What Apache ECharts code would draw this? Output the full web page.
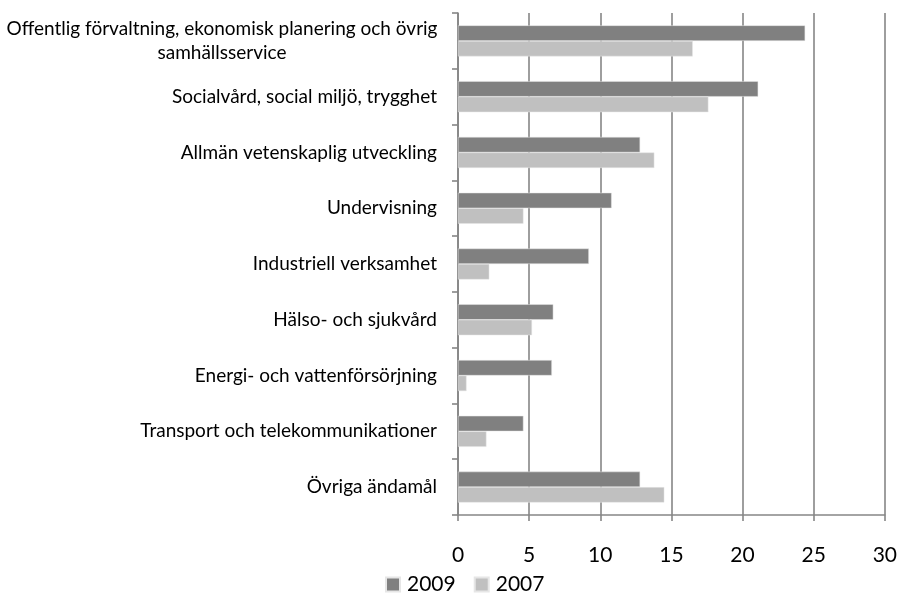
<!DOCTYPE html>
<html>
<head>
<meta charset="utf-8">
<script src="https://cdn.jsdelivr.net/npm/echarts@6/dist/echarts.min.js"></script>
<style>html,body{margin:0;padding:0;background:#fff}#c{width:900px;height:593px}</style>
</head>
<body>
<div id="c"></div>
<script>
const categories = [
  "Offentlig förvaltning, ekonomisk planering och övrig\nsamhällsservice",
  "Socialvård, social miljö, trygghet",
  "Allmän vetenskaplig utveckling",
  "Undervisning",
  "Industriell verksamhet",
  "Hälso- och sjukvård",
  "Energi- och vattenförsörjning",
  "Transport och telekommunikationer",
  "Övriga ändamål"
];
const values2009 = [24.4, 21.1, 12.8, 10.8, 9.2, 6.7, 6.6, 4.6, 12.8];
const values2007 = [16.5, 17.6, 13.8, 4.6, 2.2, 5.2, 0.6, 2.0, 14.5];
const seriesNames = ["2009", "2007"];
const xTicks = [0, 5, 10, 15, 20, 25, 30];

const FONT = 'Lato';
const chart = echarts.init(document.getElementById('c'), null, {renderer: 'canvas'});
chart.setOption({
  animation: false,
  textStyle: {fontFamily: FONT},
  grid: {left: 458, right: 14, top: 13, bottom: 78, containLabel: false},
  legend: {
    data: seriesNames,
    left: 380, top: 569,
    itemWidth: 14, itemHeight: 14, itemGap: 18,
    icon: 'rect',
    textStyle: {fontFamily: FONT, fontSize: 21, color: '#000', padding: [0, 0, 0, 2]}
  },
  xAxis: {
    type: 'value',
    min: xTicks[0], max: xTicks[xTicks.length - 1], interval: 5,
    axisLine: {show: true, lineStyle: {color: '#868686', width: 1.6}},
    axisTick: {show: true, length: 6, lineStyle: {color: '#868686', width: 1.6}},
    splitLine: {show: true, lineStyle: {color: '#868686', width: 1.6}},
    axisLabel: {fontFamily: FONT, fontSize: 21, color: '#000', margin: 30}
  },
  yAxis: {
    type: 'category',
    inverse: true,
    data: categories,
    axisLine: {show: true, lineStyle: {color: '#868686', width: 1.6}},
    axisTick: {show: true, length: 6, lineStyle: {color: '#868686', width: 1.6}},
    axisLabel: {
      fontFamily: FONT, fontSize: 19, color: '#000', margin: 21, lineHeight: 24,
      formatter: function (v) {
        if (v.indexOf('\n') >= 0) {
          return v.split('\n').map(s => '{c|' + s + '}').join('\n');
        }
        return v;
      },
      rich: {c: {fontFamily: FONT, fontSize: 19, color: '#000', width: 430, align: 'center', lineHeight: 24}}
    }
  },
  series: [
    {name: seriesNames[0], type: 'bar', data: values2009, barWidth: 15.5, barGap: '0%',
     itemStyle: {color: '#808080', borderColor: '#e6e6e6', borderWidth: 0.5}},
    {name: seriesNames[1], type: 'bar', data: values2007, barWidth: 15.5, barGap: '0%',
     itemStyle: {color: '#c0c0c0', borderColor: '#e6e6e6', borderWidth: 0.5}}
  ]
});
</script>
</body>
</html>
